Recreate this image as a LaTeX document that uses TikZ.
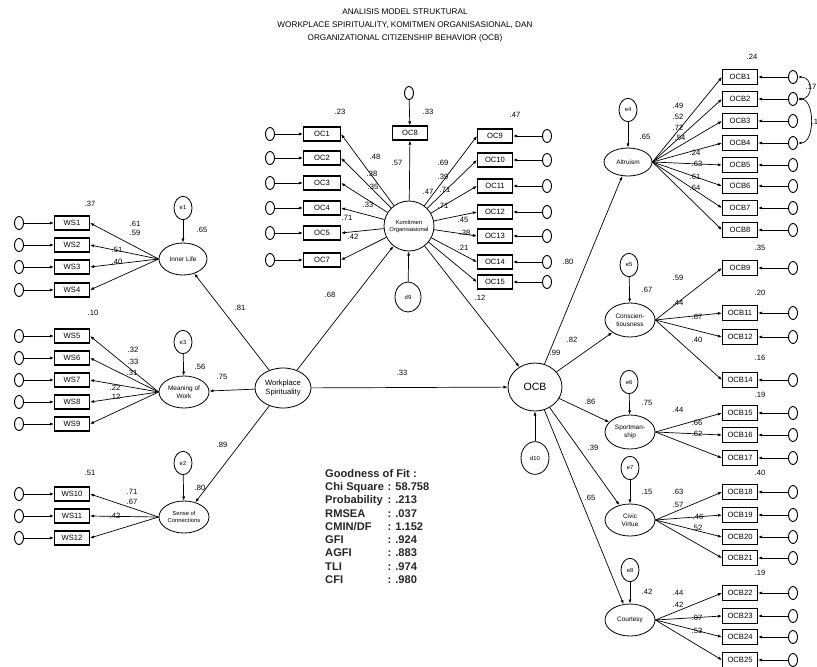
\documentclass[tikz,border=0pt]{standalone}
\usepackage{fontspec}
\setmainfont{Liberation Sans}
\usetikzlibrary{arrows.meta,shapes.geometric}

\begin{document}
\begin{tikzpicture}[x=0.03cm, y=-0.03cm,
    ind/.style={draw=black, line width=0.9pt, minimum width=1.05cm, minimum height=0.42cm, inner sep=0pt, font=\fontsize{6.5}{7}\selectfont},
    err/.style={draw=black, ellipse, line width=0.8pt, minimum width=0.27cm, minimum height=0.39cm, inner sep=0pt},
    dist/.style={draw=black, ellipse, line width=0.7pt, minimum width=0.54cm, minimum height=0.7cm, inner sep=0pt, font=\fontsize{5}{6}\selectfont},
    lat/.style={draw=black, ellipse, line width=0.7pt, minimum width=1.5cm, minimum height=0.96cm, inner sep=0pt, align=center, font=\fontsize{5.5}{6.5}\selectfont},
    num/.style={inner sep=0pt, font=\fontsize{6.5}{7}\selectfont},
    arr/.style={-{Latex[length=3.5pt, width=2.6pt]}, line width=0.6pt},
    cov/.style={{Latex[length=3pt, width=2.4pt]}-{Latex[length=3pt, width=2.4pt]}, line width=0.6pt}
]
\useasboundingbox (0,0) rectangle (817,666);

% Title
\node[font=\fontsize{7}{8}\selectfont] (title1) at (405,12) {ANALISIS MODEL STRUKTURAL};
\node[font=\fontsize{7}{8}\selectfont] (title2) at (405,25) {WORKPLACE SPIRITUALITY, KOMITMEN ORGANISASIONAL, DAN};
\node[font=\fontsize{7}{8}\selectfont] (title3) at (405,38) {ORGANIZATIONAL CITIZENSHIP BEHAVIOR (OCB)};

% Latent variables
\node[lat, minimum width=1.44cm] (inner) at (183,259) {Inner Life};
\node[lat] (meaning) at (184,392) {Meaning of\\Work};
\node[lat, font=\fontsize{5}{6}\selectfont] (sense) at (184,517) {Sense of\\Connections};
\node[lat, minimum width=1.68cm, minimum height=1.2cm, font=\fontsize{6.5}{8}\selectfont] (wsp) at (283,388) {Workplace\\Spirituality};
\node[draw=black, circle, line width=0.7pt, minimum size=1.5cm, inner sep=0pt, align=center, font=\fontsize{5}{6}\selectfont] (komit) at (409,226) {Komitmen\\Organisasional};
\node[lat, minimum width=1.62cm, minimum height=1.44cm, font=\fontsize{9}{10}\selectfont] (ocb) at (535,387) {OCB};
\node[lat, minimum width=1.44cm, minimum height=0.84cm] (altru) at (628,162) {Altruism};
\node[lat, minimum height=1.02cm] (consc) at (630,320) {Conscien-\\tiousness};
\node[lat, minimum height=1.02cm] (sport) at (630,432) {Sportman-\\ship};
\node[lat] (civic) at (630,520) {Civic\\Virtue};
\node[lat] (court) at (630,620) {Courtesy};

% Disturbances
\node[dist] (e1) at (183,208) {e1};
\node[dist] (e3) at (183,342) {e3};
\node[dist] (e2) at (183,463) {e2};
\node[dist, minimum width=0.78cm, minimum height=0.9cm] (d9) at (408,297) {d9};
\node[dist, minimum width=0.84cm, minimum height=0.98cm] (d10) at (535,458) {d10};
\node[dist] (e4) at (628,110) {e4};
\node[dist] (e5) at (629,265) {e5};
\node[dist] (e6) at (629,382) {e6};
\node[dist] (e7) at (630,468) {e7};
\node[dist] (e8) at (630,570) {e8};

\draw[arr] (e1) -- (inner);
\draw[arr] (e3) -- (meaning);
\draw[arr] (e2) -- (sense);
\draw[arr] (d9) -- (komit);
\draw[arr] (d10) -- (ocb);
\draw[arr] (e4) -- (altru);
\draw[arr] (e5) -- (consc);
\draw[arr] (e6) -- (sport);
\draw[arr] (e7) -- (civic);
\draw[arr] (e8) -- (court);

% Structural paths
\draw[arr] (wsp) -- (inner);
\draw[arr] (wsp) -- (meaning);
\draw[arr] (wsp) -- (sense);
\draw[arr] (wsp) -- (komit);
\draw[arr] (wsp) -- (ocb);
\draw[arr] (komit) -- (ocb);
\draw[arr] (ocb) -- (altru);
\draw[arr] (ocb) -- (consc);
\draw[arr] (ocb) -- (sport);
\draw[arr] (ocb) -- (civic);
\draw[arr] (ocb) -- (court);

% Workplace Spirituality indicators
\foreach \n/\y/\lv in {1/223/inner,2/245/inner,3/267/inner,4/290/inner,5/336/meaning,6/358/meaning,7/380/meaning,8/402/meaning,9/424/meaning,10/494/sense,11/516/sense,12/538/sense} {
  \node[ind] (ws\n) at (72,\y) {WS\n};
  \node[err] (ews\n) at (19,\y) {};
  \draw[arr] (ews\n) -- (ws\n);
  \draw[arr] (\lv.west) -- (ws\n.east);
}

% Komitmen indicators
\foreach \n/\y in {1/134,2/158,3/183,4/208,5/233,7/260} {
  \node[ind, minimum width=1.11cm] (oc\n) at (322,\y) {OC\n};
  \node[err] (eoc\n) at (270,\y) {};
  \draw[arr] (eoc\n) -- (oc\n);
  \draw[arr] (komit) -- (oc\n.east);
}
\foreach \n/\y in {9/136,10/160,11/186,12/212,13/236,14/262,15/282} {
  \node[ind] (oc\n) at (495,\y) {OC\n};
  \node[err] (eoc\n) at (547,\y) {};
  \draw[arr] (eoc\n) -- (oc\n);
  \draw[arr] (komit) -- (oc\n.west);
}
\node[ind] (oc8) at (410,133) {OC8};
\node[err] (eoc8) at (409,93) {};
\draw[arr] (eoc8) -- (oc8);
\draw[arr] (komit) -- (oc8);

% OCB indicators
\foreach \n/\y/\lv in {1/77/altru,2/99/altru,3/121/altru,4/143/altru,5/165/altru,6/186/altru,7/208/altru,8/230/altru,9/268/consc,11/313/consc,12/337/consc,14/380/consc,15/413/sport,16/435/sport,17/458/sport,18/492/civic,19/515/civic,20/537/civic,21/558/civic,22/593/court,23/616/court,24/637/court,25/660/court} {
  \node[ind, minimum height=0.45cm] (ocb\n) at (740,\y) {OCB\n};
  \node[err] (eocb\n) at (793,\y) {};
  \draw[arr] (eocb\n) -- (ocb\n);
  \draw[arr] (\lv.east) -- (ocb\n.west);
}
\draw[cov] (eocb1.east) to[out=0, in=0, looseness=1.8] (eocb2.east);
\draw[cov] (eocb2.east) to[out=0, in=0, looseness=1] (eocb4.east);

% Estimates
\foreach \x/\y/\t [count=\i] in {90/204/.37, 202/230/.65, 135/224/.61, 135/233/.59, 117/250/.51, 117/262/.40, 240/308/.81,
    93/313/.10, 200/367/.56, 222/377/.75, 133/350/.32, 133/362/.33, 132/373/.31, 115/388/.22, 115/397/.12,
    90/473/.51, 200/488/.80, 222/445/.89, 132/492/.71, 132/502/.67, 115/516/.42,
    330/295/.68, 402/373/.33,
    340/112/.23, 428/112/.33, 397/163/.57, 428/192/.47, 515/115/.47, 480/298/.12,
    375/157/.48, 372/174/.38, 373/187/.35, 368/205/.33, 347/218/.71, 353/237/.42,
    443/163/.69, 443/177/.39, 445/190/.71, 443/206/.71, 463/220/.45, 465/233/.38, 463/248/.21,
    555/353/.99, 572/340/.82, 590/402/.86, 593/448/.39, 590/498/.65, 568/262/.80,
    752/57/.24, 645/137/.65, 678/106/.49, 678/117/.52, 678/128/.72, 680/138/.54, 695/153/.24, 697/164/.63, 695/177/.61, 695/188/.64, 760/248/.35,
    647/290/.67, 760/293/.20, 760/358/.16, 678/278/.59, 678/303/.44, 697/317/.67, 697/340/.40,
    647/403/.75, 760/395/.19, 678/410/.44, 697/423/.66, 697/434/.62,
    647/492/.15, 760/473/.40, 678/492/.63, 678/505/.57, 698/517/.46, 697/528/.52,
    647/592/.42, 760/573/.19, 678/593/.44, 678/605/.42, 697/618/.07, 697/631/.53,
    811/87/.17, 815/122/.1}
  \node[num] (est\i) at (\x,\y) {\t};

% Goodness of fit
\node[anchor=north west, inner sep=0pt, font=\fontsize{9.5}{11.3}\selectfont\bfseries, text=black!85] (fit) at (325,468) {%
  \begin{tabular}{@{}l@{\hspace{3pt}}l@{}}
  \multicolumn{2}{@{}l}{Goodness of Fit :}\\
  Chi Square & : 58.758\\
  Probability & : .213\\
  RMSEA & : .037\\
  CMIN/DF & : 1.152\\
  GFI & : .924\\
  AGFI & : .883\\
  TLI & : .974\\
  CFI & : .980
  \end{tabular}};

\end{tikzpicture}
\end{document}
